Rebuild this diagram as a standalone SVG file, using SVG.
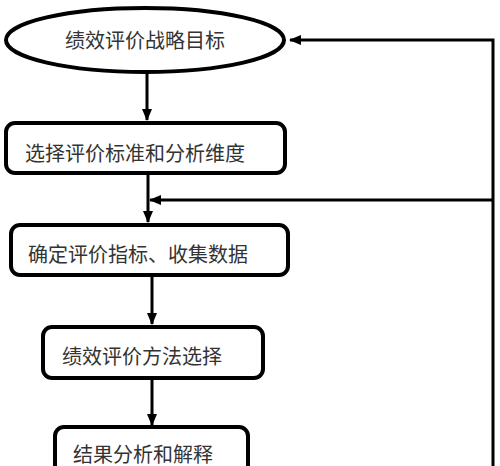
<svg xmlns="http://www.w3.org/2000/svg" width="500" height="466" viewBox="0 0 500 466">
<style>
.n{fill:#fff;stroke:#000;stroke-width:4}
.t{font-family:"Noto Sans CJK SC","Noto Sans",sans-serif;font-size:20px;fill:#333;dominant-baseline:central}
.c{fill:none;stroke:#000;stroke-width:3}
</style>
<defs>
<marker id="a" markerWidth="12" markerHeight="10" refX="11" refY="5" orient="auto" markerUnits="userSpaceOnUse">
<path d="M0,0 L12,5 L0,10 Z" fill="#000"/>
</marker>
</defs>
<rect width="500" height="466" fill="#fff"/>
<g id="connectors">
<line class="c" x1="147" y1="73" x2="147" y2="120" marker-end="url(#a)"/>
<line class="c" x1="148" y1="174" x2="148" y2="222" marker-end="url(#a)"/>
<line class="c" x1="152" y1="276" x2="152" y2="324" marker-end="url(#a)"/>
<line class="c" x1="152" y1="379" x2="152" y2="425" marker-end="url(#a)"/>
<polyline class="c" points="493,466 493,40 290,40" marker-end="url(#a)"/>
<line class="c" x1="493" y1="200" x2="150" y2="200" marker-end="url(#a)"/>
</g>
<g id="n1">
<ellipse class="n" cx="145" cy="40" rx="139" ry="32"/>
<text class="t" x="145" y="39" text-anchor="middle">绩效评价战略目标</text>
</g>
<g id="n2">
<rect class="n" x="6" y="123" width="279" height="50" rx="9"/>
<text class="t" x="25" y="152">选择评价标准和分析维度</text>
</g>
<g id="n3">
<rect class="n" x="11" y="225" width="277" height="50" rx="9"/>
<text class="t" x="28" y="253">确定评价指标、收集数据</text>
</g>
<g id="n4">
<rect class="n" x="43" y="327" width="220" height="51" rx="9"/>
<text class="t" x="62" y="355">绩效评价方法选择</text>
</g>
<g id="n5">
<rect class="n" x="55" y="427" width="193" height="60" rx="9"/>
<text class="t" x="73" y="453">结果分析和解释</text>
</g>
</svg>
